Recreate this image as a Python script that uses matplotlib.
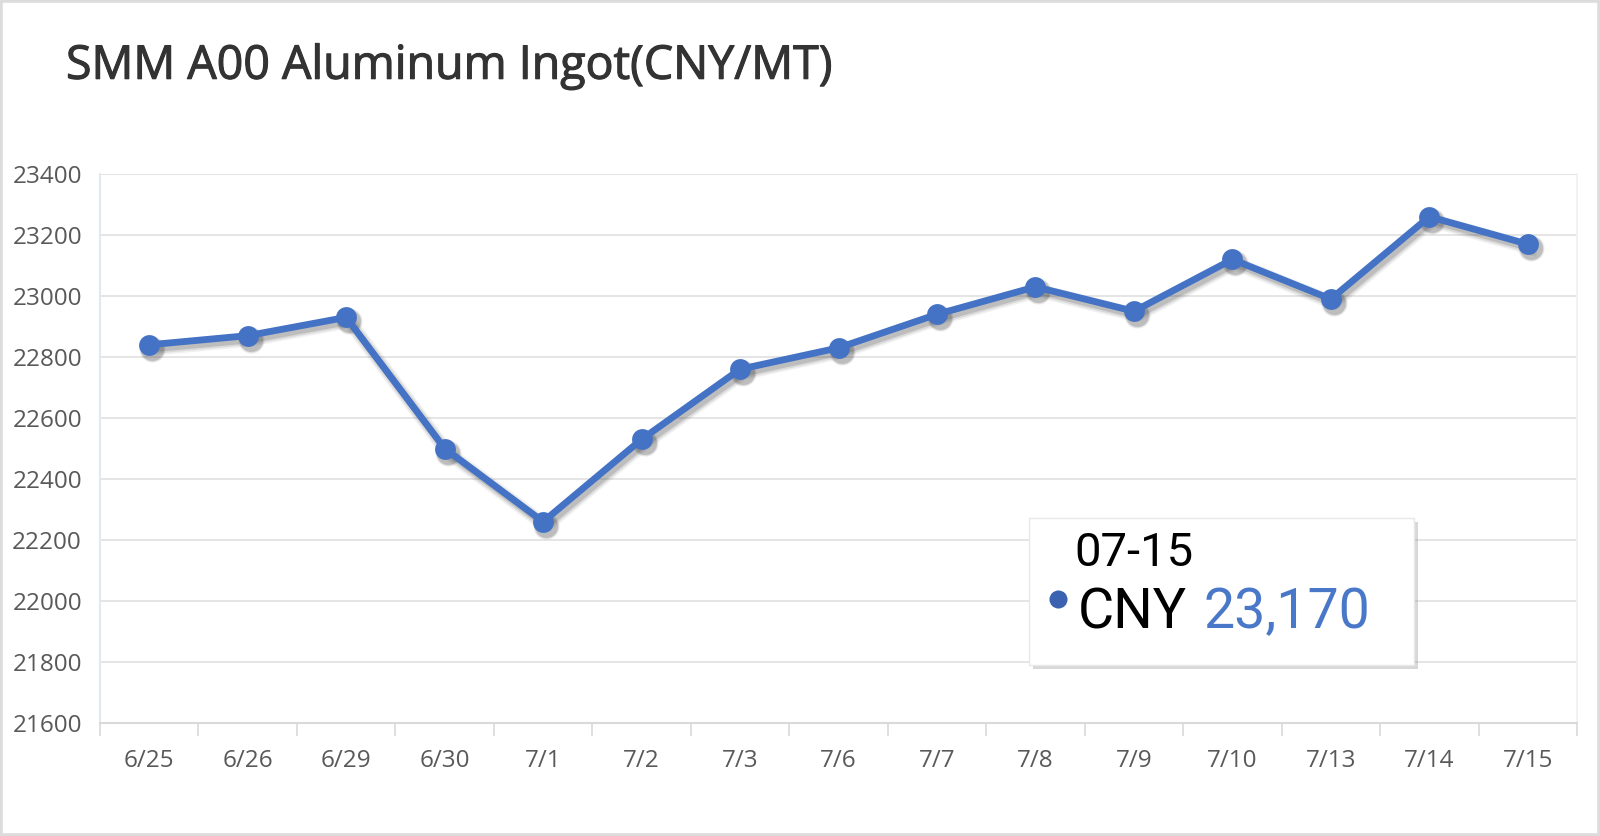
import numpy as np
import matplotlib.pyplot as plt
import matplotlib.patheffects as pe
from matplotlib.patches import Rectangle
from matplotlib.transforms import offset_copy

# Datos del gráfico
fechas = ['6/25', '6/26', '6/29', '6/30', '7/1', '7/2', '7/3', '7/6',
          '7/7', '7/8', '7/9', '7/10', '7/13', '7/14', '7/15']
precios = np.array([22840, 22870, 22930, 22500, 22260, 22530, 22760, 22830,
                    22940, 23030, 22950, 23120, 22990, 23260, 23170])
y_ticks = [21600, 21800, 22000, 22200, 22400, 22600, 22800, 23000, 23200, 23400]
titulo = 'SMM A00 Aluminum Ingot(CNY/MT)'
tooltip_fecha = '07-15'
tooltip_valor = '23,170'

azul = '#4472C4'
gris_texto = '#595959'
gris_linea = '#D9D9D9'

fig = plt.figure(figsize=(16, 8.36), dpi=100)
fig.patch.set_facecolor('white')

ax = fig.add_axes([100 / 1600, 1 - 723 / 836, 1477 / 1600, 549 / 836])
x = np.arange(len(fechas))

# Sombra de la línea (desplazada unos píxeles)
sombra = offset_copy(ax.transData, fig=fig, x=3, y=-4, units='dots')
for a, w in [(0.07, 10), (0.11, 7.5), (0.17, 5)]:
    ax.plot(x, precios, color='#303030', alpha=a, lw=w, marker='o', ms=14 + w / 2,
            mew=0, transform=sombra, solid_joinstyle='round', zorder=2)

ax.plot(x, precios, color=azul, lw=4.9, marker='o', ms=15, mew=0,
        solid_joinstyle='round', zorder=3)

ax.set_xlim(-0.5, len(fechas) - 0.5)
ax.set_ylim(y_ticks[0], y_ticks[-1])
ax.set_yticks(y_ticks)
ax.set_xticks(x)
ax.set_xticklabels(fechas)
ax.set_xticks(np.arange(-0.5, len(fechas), 1), minor=True)
ax.tick_params(axis='x', which='major', length=0, pad=19, labelsize=17.5, labelcolor=gris_texto)
ax.tick_params(axis='x', which='minor', length=9, width=1.2, color=gris_linea, direction='out')
ax.tick_params(axis='y', length=0, pad=13, labelsize=17.5, labelcolor=gris_texto)
for lab in ax.get_xticklabels() + ax.get_yticklabels():
    lab.set_family('Open Sans')

ax.grid(axis='y', color='#E3E3E3', lw=1.3)
ax.set_axisbelow(True)
ax.spines['top'].set_visible(False)
ax.spines['bottom'].set_color(gris_linea)
ax.spines['bottom'].set_linewidth(1.5)
ax.spines['left'].set_color('#E2E8F0')
ax.spines['left'].set_linewidth(1.5)
ax.spines['right'].set_color('#EEF0F4')
ax.spines['right'].set_linewidth(1.2)

# Título
fig.text(66 / 1600, 1 - 66 / 836, titulo, fontsize=33.5, color='#333333',
         family='Open Sans', ha='left', va='center',
         path_effects=[pe.withStroke(linewidth=0.8, foreground='#333333')])

# Tooltip
caja = Rectangle((1029 / 1600, 1 - 665 / 836), 385 / 1600, 147 / 836,
                 transform=fig.transFigure, facecolor='white', edgecolor='#E8E8E8', lw=1,
                 zorder=5, path_effects=[pe.withSimplePatchShadow(offset=(3, -3),
                                                                   shadow_rgbFace='#808080', alpha=0.3)])
fig.patches.append(caja)
fig.text(1074 / 1600, 1 - 553 / 836, tooltip_fecha, fontsize=34, color='black',
         family='Roboto', ha='left', va='center', zorder=6)
fig.lines.append(plt.Line2D([1058 / 1600], [1 - 599 / 836], marker='o', ms=13, color='#3A62B0',
                            mew=0, transform=fig.transFigure, zorder=6))
fig.text(1078 / 1600, 1 - 613 / 836, 'CNY', fontsize=40, color='black',
         family='Roboto', ha='left', va='center', zorder=6)
fig.text(1204 / 1600, 1 - 613 / 836, tooltip_valor, fontsize=40, color='#4A78C8',
         family='Roboto', ha='left', va='center', zorder=6)

# Borde exterior
fig.patches.append(Rectangle((0, 0), 1, 1, transform=fig.transFigure, fill=False,
                             edgecolor='#DCDCDC', lw=4, zorder=10))

fig.savefig('out.png', dpi=100, facecolor='white')
